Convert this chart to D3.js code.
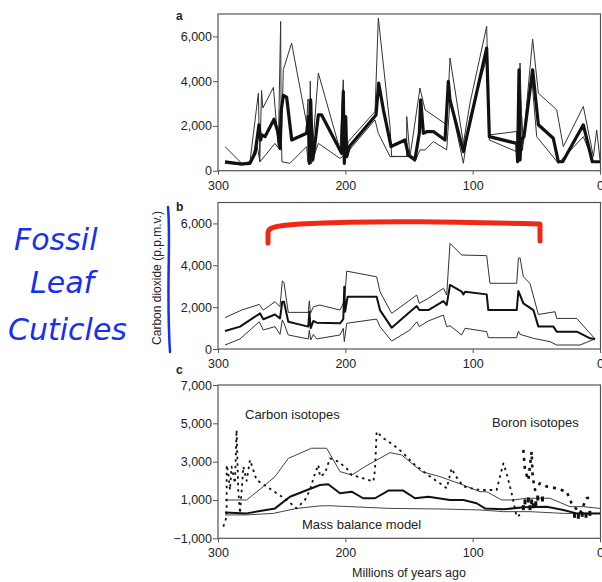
<!DOCTYPE html>
<html><head><meta charset="utf-8">
<script src="https://cdn.jsdelivr.net/npm/d3@7"></script>
<style>body{margin:0;background:#fff}svg{display:block}</style>
</head><body>
<script>
// ---- Data (age in Myr ago, CO2 in p.p.m.v.) ----
const xTicks = [300, 200, 100, 0];
const yTicksAB = [0, 2000, 4000, 6000];
const yTicksC = [-1000, 1000, 3000, 5000, 7000];
const panelLabels = ["a", "b", "c"];

const aMid = [[294.5,400],[281.4,300],[274.9,330],[270.9,780],[267.8,2050],[266.5,1370],[265.7,1600],[263.1,1520],[256,2300],[253.1,1750],[251.3,1000],[250.5,2640],[248.7,3360],[246.1,3280],[242.1,1370],[230.4,1670],[229,2420],[228.3,330],[227.2,3160],[226.6,2000],[225.6,480],[223.8,1220],[221.2,2490],[218.6,2490],[202.9,780],[201.6,3540],[200.8,330],[199.7,2420],[198.9,630],[196.8,1080],[175.9,2490],[173.8,3910],[170.1,2720],[164.1,1080],[153.1,1370],[150.5,700],[145.3,510],[141.9,1670],[140.8,3160],[138.7,1670],[135.6,1750],[130.9,1750],[121.7,1370],[119.1,3990],[117.8,3160],[107.3,850],[89,5480],[86.9,1520],[65.4,1220],[64.7,400],[63.6,4510],[62.8,480],[62,1370],[59.7,1520],[52.9,4510],[48.4,2050],[36.7,1450],[32.7,400],[29.3,400],[13.1,2050],[6,400],[0,400]];
const aHigh = [[294.5,1075],[281.4,330],[274.9,400],[268.3,3460],[267.2,400],[265.8,3580],[264.8,2800],[256.5,3720],[252.6,1075],[250.8,6670],[250.3,900],[248.7,4510],[242.2,5700],[230.4,2120],[229.3,3200],[228.6,400],[227.5,4000],[226.6,300],[221.2,4360],[204.2,930],[201.6,4060],[200.7,400],[197.7,1300],[176.7,2640],[174.1,6820],[164.9,1970],[163.6,640],[151.8,640],[151.8,2420],[149.2,630],[141.4,3690],[137.4,2720],[120.4,2050],[117.8,5030],[107.3,1220],[102.1,3020],[89,6450],[86.9,1600],[65.4,1750],[64.9,500],[62.8,4810],[60.9,900],[52.9,5880],[48.4,3460],[34,2720],[28.8,1075],[13.1,2870],[5.2,630],[2.6,1820],[0,480]];
const aLow = [[294.5,330],[281.4,250],[274.9,330],[269.7,1220],[267,400],[255.3,1220],[251.3,930],[250.5,2300],[249.8,400],[243.5,330],[230.4,1075],[229.3,400],[227.5,1500],[226.6,330],[221.2,1220],[204.2,550],[199,780],[176.7,2270],[174.1,1670],[164.9,630],[150.5,630],[145.3,400],[141.4,930],[137.4,930],[130.9,1300],[120.4,930],[117.8,3170],[107.3,330],[102.1,2420],[89,5030],[86.9,1370],[65.4,850],[62.8,3610],[60.2,1220],[53.7,4210],[49.7,1520],[32.7,330],[13.1,1520],[5.2,400],[0,400]];

const bMid = [[294.5,860],[282.7,1070],[267,1700],[264.4,1420],[255.2,1650],[251.3,1460],[249.5,2260],[248.2,2260],[244.8,1300],[229.1,1070],[228.3,1780],[227.2,990],[225.1,1340],[222.5,1260],[204.2,1230],[201.6,1430],[200.8,2980],[200.2,1780],[198.2,2500],[175.4,2500],[172.8,1860],[163.6,1020],[149.2,1780],[143.9,2050],[141.9,1860],[134.8,1860],[123,2290],[120.4,2100],[117.8,3060],[108.6,2740],[107.3,2610],[106,2740],[89,2610],[87.7,1860],[65.4,1860],[64.1,2770],[62.8,2580],[60.2,2180],[52.3,1860],[48.4,1070],[36.6,1070],[34,830],[18.3,830],[13.1,670],[7.8,510],[3.9,480]];
const bHigh = [[294.5,1500],[281.4,1860],[267.6,2130],[264.4,1860],[255.2,2260],[251.3,2020],[249.5,3250],[248.2,3180],[244.8,1750],[229.1,1750],[228.3,2300],[227.4,1700],[225.1,2020],[220,2100],[204.2,1860],[201.6,2180],[200.2,2660],[198.9,3720],[175.4,3450],[172.8,2740],[163.6,1700],[143.9,2580],[141.9,2180],[134.8,2420],[123,2900],[120.4,2580],[117.8,5050],[108.6,4490],[89,4460],[86.4,3140],[65.4,3140],[64.1,4330],[62.8,4360],[60.2,3450],[55,3140],[48.4,1650],[35.3,1780],[34,1460],[18.3,1460],[3.9,480]];
const bLow = [[294.5,190],[282.7,480],[267.6,1300],[264.4,910],[255.2,1070],[251.3,700],[249.5,1390],[248.2,1230],[244.8,670],[229.1,480],[228.3,900],[227.2,430],[225.1,700],[222.5,480],[204.2,670],[201.6,990],[200.8,350],[198.9,1230],[175.4,1430],[172.8,1070],[163.6,380],[149.2,910],[143.9,1300],[141.9,1070],[134.8,1340],[123,1620],[120.4,1070],[117.8,1110],[108.6,670],[106,990],[89,830],[87.7,540],[65.4,540],[64.1,860],[62.8,700],[52.3,510],[39.2,350],[34,190],[15.7,190],[3.9,480]];

const cHigh = [[294.5,1000],[277.5,1000],[264.4,1700],[255.2,2220],[244.8,3170],[226.5,3700],[214.7,3700],[204.2,2480],[195,2300],[184.6,2740],[164.9,3470],[155.8,3350],[140,2480],[125.7,2220],[107.3,1780],[94.2,1430],[89,1430],[77.2,1000],[68.1,1000],[57.6,1090],[39.3,1090],[23.6,650],[13.1,650],[0,560]];
const cMid = [[294.5,340],[277.5,300],[255.2,560],[243.5,1170],[219.9,1780],[213.4,1820],[204.2,1350],[195,1430],[186,1090],[176.7,1090],[166.2,1490],[154.5,1490],[145.3,1090],[134.8,1170],[127,1090],[117.8,1000],[107.3,1000],[96.9,830],[90.3,560],[75.9,510],[60.2,620],[41.9,650],[28.8,480],[18.3,300],[0,300]];
const cModel = [[294.5,220],[277.5,220],[256.5,300],[238.2,560],[219.9,690],[212.1,700],[196.3,650],[164.9,560],[125.7,530],[94.2,480],[75.9,390],[55,390],[28.8,300],[0,300]];
const cCarbonData = [[295.8,-390],[293.2,130],[293.2,2830],[291.9,2390],[290.6,1520],[289.3,2740],[286.7,1870],[285.4,4650],[284.1,1520],[282.7,300],[280.1,2740],[277.5,2000],[274.9,3090],[269.7,2040],[261.8,1700],[253.9,1350],[246.1,1000],[238.2,560],[231.7,1000],[227.8,1520],[223.8,2390],[221.2,2830],[219.9,2220],[216,2390],[212.1,3170],[205.5,3000],[199,2650],[195,2300],[186,2130],[178,1960],[176.7,2560],[175.4,4560],[170.1,4220],[162.3,3870],[155.8,3520],[145.3,2830],[133.5,2220],[125.7,1870],[120.4,1610],[116.5,2650],[113.9,2300],[107.3,1700],[94.2,1520],[81.2,1520],[75.9,2910],[73.3,2390],[69.4,1350],[66.8,560],[65.5,130],[62.8,220]];
const cBoronData = [[60.2,3610],[58.9,2560],[56.3,2040],[53.7,3520],[52.9,2220],[51,1520],[47.1,1870],[41.9,1700],[34,1610],[26.2,1430],[22.3,830],[15.7,300],[10.5,1090],[5.2,1170]];
const cBoronCluster = [[60.2,600],[58.9,900],[56.3,1000],[55,600],[53.7,900],[52.3,700],[50.4,800],[48.9,1100],[45.2,1050],[20,200],[17,150],[14,250],[11,200],[8,300]];

// ---- Layout ----
const W = 602, H = 582;
const svg = d3.select("body").append("svg").attr("width", W).attr("height", H)
  .style("font-family", "Liberation Sans, Arial, sans-serif");

const x = d3.scaleLinear().domain([300, 0]).range([218, 600]);
const yA = d3.scaleLinear().domain([0, 7000]).range([170.7, 14]);
const yB = d3.scaleLinear().domain([0, 7000]).range([349, 202.5]);
const yC = d3.scaleLinear().domain([-1000, 7000]).range([538.3, 385]);
const fmt = d3.format(",");

function frame(y, ticks, label, labelY) {
  const g = svg.append("g");
  const [y0, y1] = y.range();
  g.append("rect").attr("x", 218).attr("y", y1).attr("width", 382.5).attr("height", y0 - y1)
    .attr("fill", "none").attr("stroke", "#555").attr("stroke-width", 1.2);
  const ax = g.append("g").attr("transform", "translate(218,0)")
    .call(d3.axisLeft(y).tickValues(ticks).tickFormat(fmt).tickSize(5).tickPadding(1));
  ax.select(".domain").remove();
  ax.selectAll("line").attr("stroke", "#555");
  ax.selectAll("text").attr("fill", "#222").style("font-size", "12.5px");
  const bx = g.append("g").attr("transform", `translate(0,${y0})`)
    .call(d3.axisBottom(x).tickValues(xTicks).tickFormat(d3.format("d")).tickSize(4).tickPadding(6));
  bx.select(".domain").remove();
  bx.selectAll("line").attr("stroke", "#555");
  bx.selectAll("text").attr("fill", "#222").style("font-size", "12.5px");
  g.append("text").attr("x", 176).attr("y", labelY).text(label)
    .style("font-weight", "bold").style("font-size", "12px").attr("fill", "#222");
}

frame(yA, yTicksAB, panelLabels[0], 20);
frame(yB, yTicksAB, panelLabels[1], 211);
frame(yC, yTicksC, panelLabels[2], 374);

function draw(data, y, w, color, dash) {
  const line = d3.line().x(d => x(d[0])).y(d => y(d[1]));
  const p = svg.append("path").datum(data).attr("d", line).attr("fill", "none")
    .attr("stroke", color).attr("stroke-width", w).attr("stroke-linejoin", "round");
  if (dash) p.attr("stroke-dasharray", dash);
  return p;
}

// Panel a
draw(aHigh, yA, 1, "#333");
draw(aLow, yA, 1, "#333");
draw(aMid, yA, 3.2, "#111");
// Panel b
draw(bHigh, yB, 1, "#333");
draw(bLow, yB, 1, "#333");
draw(bMid, yB, 2, "#111");
// Panel c
draw(cHigh, yC, 1, "#444");
draw(cModel, yC, 1, "#444");
draw(cMid, yC, 2, "#111");
draw(cCarbonData, yC, 1.8, "#111", "2.5,4");
draw(cBoronData, yC, 2.6, "#111", "3,5");
svg.append("g").selectAll("rect").data(cBoronCluster).join("rect")
  .attr("x", d => x(d[0]) - 1.5).attr("y", d => yC(d[1]) - 2.5).attr("width", 3).attr("height", 5).attr("fill", "#111");

const txt = (t, px, py, size) => svg.append("text").attr("x", px).attr("y", py).text(t)
  .style("font-size", size + "px").attr("fill", "#222");
txt("Carbon isotopes", 245, 419, 13);
txt("Boron isotopes", 492, 427, 13);
txt("Mass balance model", 302, 529, 13);
svg.append("text").attr("x", 409).attr("y", 577).attr("text-anchor", "middle")
  .text("Millions of years ago").style("font-size", "12.5px").attr("fill", "#222");
svg.append("text").attr("transform", "translate(161,278) rotate(-90)").attr("text-anchor", "middle")
  .text("Carbon dioxide (p.p.m.v.)").style("font-size", "12px").attr("fill", "#222");

// Hand-drawn annotations
svg.append("path").attr("d", "M168,207 C171,240 166,290 170,352").attr("fill", "none")
  .attr("stroke", "#1530f0").attr("stroke-width", 2.5).attr("stroke-linecap", "round");
svg.append("path").attr("d", "M268,243 L268,233 C268,228 272,226 300,224 C380,220 460,222 540,224 L540,241")
  .attr("fill", "none").attr("stroke", "#ee2a14").attr("stroke-width", 5).attr("stroke-linecap", "round").attr("stroke-linejoin", "round");
const hand = (t, px, py) => svg.append("text").attr("x", px).attr("y", py).text(t)
  .attr("fill", "#1530f0").style("font-size", "30px").style("font-style", "italic")
  .style("font-family", "DejaVu Sans, sans-serif");
hand("Fossil", 14, 250);
hand("Leaf", 30, 293);
hand("Cuticles", 8, 340);
</script>
</body></html>
